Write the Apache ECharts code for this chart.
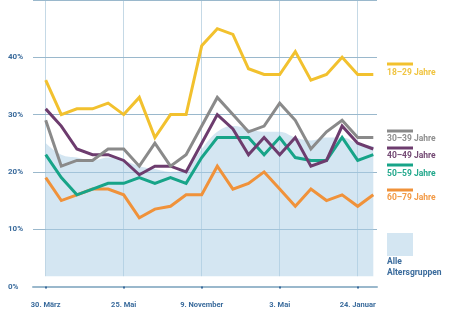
<!DOCTYPE html>
<html><head><meta charset="utf-8">
<script src="https://cdn.jsdelivr.net/npm/echarts@6/dist/echarts.min.js"></script>
<style>html,body{margin:0;padding:0;background:#fff}#c{width:454px;height:311px}</style>
</head><body><div id="c"></div>
<script>
const waves = ['1','2','3','4','5','6','7','8','9','10','11','12','13','14','15','16','17','18','19','20','21','22'];
const tickLabels = {0:'30. März',5:'25. Mai',10:'9. November',15:'3. Mai',20:'24. Januar'};
const yTicks = [0,10,20,30,40];
const g18_29 = [36,30,31,31,32,30,33,26,30,30,42,45,44,38,37,37,41,36,37,40,37,37];
const g30_39 = [29,21,22,22,24,24,21,25,21,23,28,33,30,27,28,32,29,24,27,29,26,26];
const g40_49 = [31,28,24,23,23,22,19.5,21,21,20,25,30,27.5,23,26,23,26,21,22,28,25,24];
const g50_59 = [23,19,16,17,18,18,19,18,19,18,22.5,26,26,26,23,26,22.5,22,22,26,22,23];
const g60_79 = [19,15,16,17,17,16,12,13.5,14,16,16,21,17,18,20,17,14,17,15,16,14,16];
const alle   = [25,23,22.5,22,22.5,22,21,20.5,20,20.5,24,27,28,27.5,27,27,26,25.5,26,26,25,24.5];
const names = ['18–29 Jahre','30–39 Jahre','40–49 Jahre','50–59 Jahre','60–79 Jahre'];
const colors = ['#f2c12e','#8a8a8a','#6d3c6e','#17a488','#f0923a'];
const textColors = ['#f0c440','#8f8f8f','#744a74','#22a88c','#f29a46'];
const blue = '#3a6b9c';

const chart = echarts.init(document.getElementById('c'), null, {renderer:'canvas'});
const TOP = -12.25, BOTTOM = 24.5;
const lineSeries = (data, c, z) => ({type:'line', xAxisIndex:1, yAxisIndex:1, data, symbol:'none',
  lineStyle:{color:c, width:3, join:'miter'}, z, silent:true});
const vLines = [0,5,10,15,20].map(i => [{coord:[waves[i], 1.8]}, {coord:[waves[i], 50]}]);
const legendY = [[64,73],[131,138.5],[148,156],[165,173.5],[190,197.5]];
const graphics = [];
legendY.forEach((p, k) => {
  graphics.push({type:'line', shape:{x1:387,y1:p[0],x2:413,y2:p[0]}, style:{stroke:colors[k], lineWidth:3}});
  graphics.push({type:'text', x:387, y:p[1], style:{text:names[k], fill:textColors[k], font:'bold 8.5px Roboto', align:'left', verticalAlign:'middle'}});
});
graphics.push({type:'rect', shape:{x:387,y:233,width:26,height:23}, style:{fill:'#d4e6f2'}});
graphics.push({type:'text', x:387, y:262, style:{text:'Alle', fill:blue, font:'bold 8.5px Roboto', verticalAlign:'middle'}});
graphics.push({type:'text', x:387, y:273, style:{text:'Altersgruppen', fill:blue, font:'bold 8.5px Roboto', verticalAlign:'middle'}});

chart.setOption({
  animation:false,
  grid:[{left:33, right:77, top:TOP, bottom:BOTTOM},{left:45.7, right:80.7, top:TOP, bottom:BOTTOM}],
  xAxis:[
    {gridIndex:0, type:'value', min:0, max:1, axisLine:{show:true, onZero:false, lineStyle:{color:'#9ab8cc', width:2}},
     axisTick:{show:false}, axisLabel:{show:false}, splitLine:{show:false}},
    {gridIndex:1, type:'category', boundaryGap:false, data:waves, offset:7,
     axisLine:{show:false},
     axisTick:{show:true, length:2, lineStyle:{color:blue, width:2}, interval:(i)=> i in tickLabels},
     axisLabel:{interval:(i)=> i in tickLabels, formatter:(v,i)=> tickLabels[i] || '', margin:8,
       color:blue, fontSize:7.5, fontWeight:'bold', fontFamily:'Roboto'},
     splitLine:{show:false}}
  ],
  yAxis:[
    {gridIndex:0, type:'value', min:0, max:50, interval:10,
     axisLine:{show:false}, axisTick:{show:false},
     axisLabel:{formatter:(v)=> yTicks.includes(v) ? v+'%' : '', align:'left', margin:25, color:blue, fontSize:8, fontWeight:'bold', fontFamily:'Roboto'},
     splitLine:{show:true, lineStyle:{color:'#9ab8cc', width:1.2}}},
    {gridIndex:1, type:'value', min:0, max:50, show:false}
  ],
  series:[
    {type:'line', xAxisIndex:1, yAxisIndex:1, data:alle, symbol:'none', smooth:0.4, z:1,
     lineStyle:{width:0}, areaStyle:{color:'rgba(170,205,230,0.5)', origin:1.8, opacity:1},
     markLine:{silent:true, symbol:['none','none'], z:1, label:{show:false},
       lineStyle:{color:'rgba(150,185,210,0.55)', width:1, type:'solid'}, data:vLines}},
    lineSeries(g60_79, colors[4], 2),
    lineSeries(g50_59, colors[3], 3),
    lineSeries(g40_49, colors[2], 4),
    lineSeries(g30_39, colors[1], 5),
    lineSeries(g18_29, colors[0], 6)
  ],
  graphic:graphics
});
</script></body></html>
